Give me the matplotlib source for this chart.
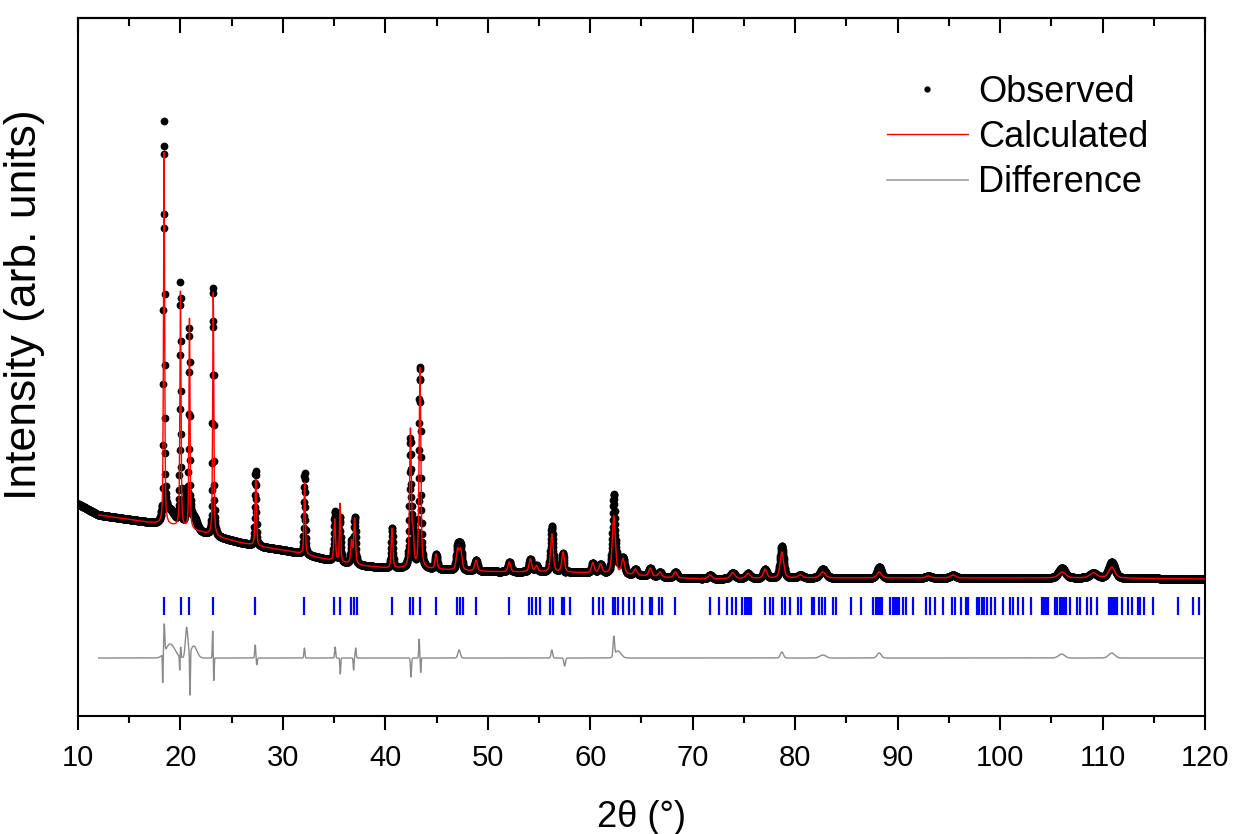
import numpy as np
import matplotlib
matplotlib.use("Agg")
import matplotlib.pyplot as plt
from matplotlib.ticker import MultipleLocator, NullFormatter
from matplotlib.lines import Line2D
from matplotlib import font_manager

# ---------------- data ----------------
# background level (arb. units) at selected 2theta values
bg_2theta = [10, 12, 14, 16, 18, 20, 22, 24, 26, 28, 30, 32, 34, 36, 38, 40,
             44, 48, 52, 56, 60, 64, 68, 72, 80, 90, 100, 110, 120]
bg_level = [212, 201, 198, 195, 192, 189, 184, 178, 173, 169, 166, 162, 157, 153, 150, 148,
            147, 145, 144, 144, 143, 141, 138, 137, 138, 138, 138, 138, 137]

# calculated Bragg peaks: position (deg), height above background, FWHM (deg)
peak_pos = [18.40, 20.00, 20.88, 23.20, 27.35, 32.12, 35.05, 35.58, 36.70, 37.00,
            40.65, 42.45, 42.70, 43.38, 44.95, 47.05, 47.35, 48.85, 52.10, 54.15,
            54.75, 56.25, 57.35, 60.25, 61.00, 62.30, 63.20, 64.40, 65.85, 66.80,
            68.30, 71.70, 73.90, 75.40, 77.06, 78.70, 80.50, 82.70, 88.20, 93.00,
            95.40, 106.05, 109.10, 110.90]
peak_height = [372, 235, 210, 243, 67, 72, 42, 58, 22, 45,
               40, 138, 30, 200, 15, 20, 20, 11, 10, 13,
               6, 38, 20, 10, 9, 58, 15, 6, 8, 5,
               6, 4, 6, 5, 9, 26, 3, 6, 6, 2,
               3, 6, 5, 11]
peak_fwhm = [0.13, 0.13, 0.12, 0.13, 0.16, 0.15, 0.18, 0.14, 0.20, 0.20,
             0.18, 0.20, 0.20, 0.20, 0.25, 0.30, 0.30, 0.30, 0.30, 0.30,
             0.30, 0.30, 0.30, 0.30, 0.35, 0.35, 0.35, 0.35, 0.35, 0.35,
             0.40, 0.40, 0.50, 0.50, 0.40, 0.40, 0.50, 0.60, 0.50, 0.60,
             0.60, 0.80, 0.80, 0.70]

# misfit features (observed - calculated): position, amplitude, width
diff_pos = [18.27, 18.42, 19.00, 19.93, 20.02, 20.60, 20.93, 21.30, 23.15, 23.25,
            27.30, 27.45, 32.10, 35.10, 35.60, 36.90, 37.10, 42.50, 43.30, 43.45,
            47.20, 56.25, 57.50, 62.30, 62.70, 78.70, 82.70, 88.20, 106.00, 110.90]
diff_amp = [-30, 28, 14, -15, 10, 30, -45, 12, 28, -24,
            13, -7, 10, 11, -16, -12, 10, -19, 19, -15,
            8, 8, -8, 19, 7, 6, 3, 5, 4, 5]
diff_width = [0.03, 0.05, 0.45, 0.03, 0.04, 0.12, 0.035, 0.30, 0.04, 0.035,
              0.05, 0.05, 0.05, 0.05, 0.04, 0.04, 0.05, 0.05, 0.04, 0.035,
              0.12, 0.08, 0.08, 0.07, 0.30, 0.15, 0.30, 0.20, 0.30, 0.30]

# Bragg reflection positions (deg)
refl_pos = [18.39, 20.02, 20.87, 23.21, 27.31, 32.06, 35.02, 35.57, 36.65, 36.94, 37.20,
            40.68, 42.41, 42.67, 43.38, 44.94, 47.03, 47.29, 47.55, 48.85, 52.10,
            54.06, 54.29, 54.71, 55.10, 56.07, 56.33, 57.21, 57.47, 58.02,
            60.24, 60.88, 61.28, 62.19, 62.42, 62.74, 63.23, 63.81, 64.30, 65.02,
            65.83, 66.00, 66.71, 67.03, 68.27, 71.69, 72.60, 73.38, 73.80, 74.20,
            74.78, 75.10, 75.30, 75.50, 75.70, 77.06, 77.55, 77.87, 78.69, 79.00,
            79.50, 80.31, 80.54, 81.61, 81.84, 82.36, 82.59, 82.92, 83.66, 83.99,
            85.42, 86.40, 87.57, 87.90, 88.10, 88.30, 88.45, 89.30, 89.50, 89.70,
            89.90, 90.10, 90.56, 90.82, 91.53, 92.77, 93.16, 93.65, 94.40, 95.28,
            95.60, 96.15, 96.67, 96.90, 97.70, 97.95, 98.20, 98.45, 98.70, 99.10,
            99.50, 100.26, 100.97, 101.30, 101.78, 102.27, 102.99, 104.06, 104.25,
            104.45, 104.65, 105.40, 105.60, 105.80, 106.00, 106.20, 106.40, 106.83,
            107.54, 107.80, 108.52, 108.84, 109.43, 110.60, 110.80, 111.00, 111.20,
            111.45, 111.87, 112.52, 112.85, 113.43, 113.66, 114.05, 114.96, 117.34,
            118.80, 119.45]

x_ticks = [10, 20, 30, 40, 50, 60, 70, 80, 90, 100, 110, 120]
legend_labels = ["Observed", "Calculated", "Difference"]
xlabel = "2\u03b8 (\u00b0)"
ylabel = "Intensity (arb. units)"

# ---------------- build the profiles ----------------
step = 0.02
tt = np.arange(10.0, 120.0 + step / 2, step)


def pseudo_voigt(x, x0, h, w, eta=0.5):
    d = (x - x0) / w
    return h * (eta / (1 + 4 * d ** 2) + (1 - eta) * np.exp(-4 * np.log(2) * d ** 2))


background = np.interp(tt, bg_2theta, bg_level)
calc = background.copy()
for p, h, w in zip(peak_pos, peak_height, peak_fwhm):
    calc += pseudo_voigt(tt, p, h, w)

misfit = np.zeros_like(tt)
for p, a, w in zip(diff_pos, diff_amp, diff_width):
    misfit += a * np.exp(-0.5 * ((tt - p) / w) ** 2)

observed = calc + misfit
diff_offset = 58
mask = tt >= 12.0

# ---------------- fonts ----------------
names = {f.name for f in font_manager.fontManager.ttflist}
main_font = "Liberation Sans" if "Liberation Sans" in names else "DejaVu Sans"
plt.rcParams["font.family"] = [main_font, "DejaVu Sans"]

# ---------------- figure ----------------
fig = plt.figure(figsize=(12.33, 8.34), dpi=100)
ax = fig.add_axes([0.06326, 0.14149, 0.91403, 0.83693])

ax.plot(tt, observed, linestyle="none", marker="o", markersize=5.6,
        markeredgewidth=0, color="black", zorder=2)
ax.plot(tt[mask], calc[mask], color="red", lw=1.0, zorder=3)
ax.plot(tt[mask], misfit[mask] + diff_offset, color="#8a8a8a", lw=1.0, zorder=2)
ax.vlines(refl_pos, 101, 119, color="blue", lw=1.6, zorder=2)

ax.set_xlim(10, 120)
ax.set_ylim(0, 698)
ax.set_yticks([])
ax.set_xticks(x_ticks)
ax.xaxis.set_minor_locator(MultipleLocator(5))
ax.tick_params(axis="x", which="major", direction="out", length=10, width=1.5,
               pad=10, labelsize=21)
ax.tick_params(axis="x", which="minor", direction="out", length=5, width=1.5)

top = ax.secondary_xaxis("top")
top.set_xticks(x_ticks)
top.xaxis.set_minor_locator(MultipleLocator(5))
top.xaxis.set_major_formatter(NullFormatter())
top.tick_params(axis="x", which="major", direction="in", length=11, width=1.5)
top.tick_params(axis="x", which="minor", direction="in", length=6, width=1.5)
top.spines["top"].set_linewidth(1.5)

for s in ax.spines.values():
    s.set_linewidth(1.5)

ax.set_xlabel(xlabel, fontsize=26, labelpad=20)
ax.set_ylabel(ylabel, fontsize=32)
ax.yaxis.set_label_coords(-0.029, 0.589)

handles = [
    Line2D([], [], linestyle="none", marker="o", markersize=3.5, color="black"),
    Line2D([], [], color="red", lw=1.0),
    Line2D([], [], color="#a0a0a0", lw=1.2),
]
ax.legend(handles, legend_labels, loc="upper left",
          bbox_to_anchor=(887 / 1233, 1 - 75 / 834), bbox_transform=fig.transFigure,
          frameon=False, fontsize=26, handlelength=2.24, handletextpad=0.28,
          labelspacing=0.28, borderpad=0, borderaxespad=0, numpoints=1)

fig.savefig("out.png", dpi=100)
